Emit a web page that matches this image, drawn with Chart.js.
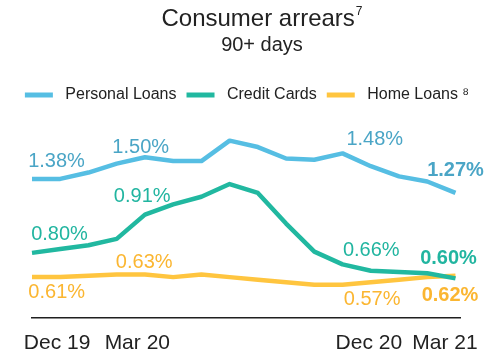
<!DOCTYPE html>
<html>
<head>
<meta charset="utf-8">
<script src="https://cdn.jsdelivr.net/npm/chart.js@4/dist/chart.umd.min.js"></script>
<style>
  html, body { margin: 0; padding: 0; background: #ffffff; }
  #wrap { position: relative; width: 494px; height: 361px; }
  #c { position: absolute; left: 0; top: 0; }
  .ttl { position: absolute; left: 0; width: 494px; text-align: center; color: #222222;
         font-family: 'Liberation Sans', Arial, Helvetica, sans-serif; white-space: nowrap;
         transform: translateX(15px); }
  #title { top: 4px; font-size: 24px; line-height: 28px; }
  #title sup { font-size: 12px; vertical-align: 0; position: relative; top: -11px; margin-left: 1px; }
  #subtitle { top: 32px; font-size: 20px; line-height: 24px; }
</style>
</head>
<body>
<div id="wrap">
  <canvas id="c" width="494" height="361"></canvas>
  <div class="ttl" id="title">Consumer arrears<sup>7</sup></div>
  <div class="ttl" id="subtitle">90+ days</div>
</div>
<script>
// ---- data ----
const months = ['Dec 19','Jan 20','Feb 20','Mar 20','Apr 20','May 20','Jun 20','Jul 20',
                'Aug 20','Sep 20','Oct 20','Nov 20','Dec 20','Jan 21','Feb 21','Mar 21'];
const personalLoans = [1.38,1.38,1.43,1.50,1.55,1.52,1.52,1.68,1.63,1.54,1.53,1.58,1.48,1.40,1.36,1.27];
const creditCards   = [0.80,0.83,0.86,0.91,1.10,1.18,1.24,1.34,1.27,1.03,0.81,0.71,0.66,0.65,0.64,0.60];
const homeLoans     = [0.61,0.61,0.62,0.63,0.63,0.61,0.63,0.61,0.59,0.57,0.55,0.55,0.57,0.59,0.61,0.62];
const seriesNames = ['Personal Loans','Credit Cards','Home Loans \u2078'];
const tickLabels = ['Dec 19','Mar 20','Dec 20','Mar 21'];
const labelledMonths = ['Dec 19','Mar 20','Dec 20','Mar 21'];

// ---- styling ----
const FONT = "'Liberation Sans', Arial, Helvetica, sans-serif";
const lineColors  = ['#56BEE3','#21B8A0','#FFC53F'];
const labelColors = ['#4AA5C6','#21B5A0','#FBB631'];
const tickNudge = [0.89, 0.73, -0.07, -0.37];
// per series, per labelled month: [dx, dy(baseline), bold]
const labelOffsets = [
  [[24.5,-12,false],[24,-11,false],[4,-21,false],[0,-17,true]],
  [[27.5,-12.7,false],[25.5,-37,false],[0.5,-15,false],[-7,-14.6,true]],
  [[24.7,20.7,false],[27.5,-6.7,false],[1.3,22.7,false],[-5.5,25,true]]
];

const allSeries = [personalLoans, creditCards, homeLoans];

const dataLabelPlugin = {
  id: 'valueLabels',
  afterDatasetsDraw(chart) {
    const ctx = chart.ctx;
    ctx.save();
    ctx.textAlign = 'center';
    ctx.textBaseline = 'alphabetic';
    allSeries.forEach((vals, s) => {
      const meta = chart.getDatasetMeta(s);
      labelledMonths.forEach((m, k) => {
        const i = months.indexOf(m);
        const pt = meta.data[i];
        const [dx, dy, bold] = labelOffsets[s][k];
        ctx.font = (bold ? 'bold ' : '') + '20px ' + FONT;
        ctx.fillStyle = labelColors[s];
        ctx.fillText(vals[i].toFixed(2) + '%', pt.x + dx, pt.y + dy);
      });
    });
    ctx.restore();
  }
};

const datasets = allSeries.map((vals, s) => ({
  label: seriesNames[s],
  data: vals.map((v, i) => ({ x: i, y: v })),
  borderColor: lineColors[s],
  backgroundColor: lineColors[s],
  borderWidth: 4.5,
  pointRadius: 0,
  pointHoverRadius: 0,
  tension: 0,
  borderJoinStyle: 'round',
  borderCapStyle: 'butt',
  yAxisID: 'y',
  clip: false
}));

new Chart(document.getElementById('c'), {
  type: 'line',
  data: { datasets },
  plugins: [dataLabelPlugin],
  options: {
    responsive: false,
    animation: false,
    devicePixelRatio: 1,
    layout: { padding: { left: 0, right: 0, top: 77, bottom: -8 } },
    plugins: {
      title: { display: false },
      subtitle: { display: false },
      legend: {
        display: true,
        position: 'top',
        labels: {
          color: '#222222',
          font: { family: FONT, size: 16 },
          boxWidth: 28,
          boxHeight: 5,
          padding: 10,
          generateLabels: (chart) => chart.data.datasets.map((d, i) => ({
            text: ' ' + d.label,
            fillStyle: lineColors[i],
            strokeStyle: lineColors[i],
            lineWidth: 0,
            hidden: false,
            datasetIndex: i,
            fontColor: '#222222'
          }))
        }
      },
      tooltip: { enabled: false }
    },
    scales: {
      x: {
        type: 'linear',
        min: 0,
        max: 15.16,
        grid: { display: false, drawTicks: false },
        border: { display: true, color: '#1f1f1f', width: 1.5 },
        afterBuildTicks: (scale) => {
          scale.ticks = tickLabels.map((l, k) => ({ value: months.indexOf(l) + tickNudge[k] }));
        },
        ticks: {
          color: '#222222',
          font: { family: FONT, size: 21, lineHeight: 1.2 },
          padding: 13,
          maxRotation: 0,
          autoSkip: false,
          callback: (v, idx) => tickLabels[idx]
        }
      },
      y: {
        type: 'linear',
        position: 'left',
        display: true,
        min: 0.291,
        max: 1.897,
        grid: { display: false, drawTicks: false },
        border: { display: false },
        ticks: { display: false },
        afterFit: (scale) => { scale.width = 32; }
      },
      yRight: {
        type: 'linear',
        position: 'right',
        display: true,
        min: 0.291,
        max: 1.897,
        grid: { display: false, drawTicks: false },
        border: { display: false },
        ticks: { display: false },
        afterFit: (scale) => { scale.width = 34; }
      }
    }
  }
});
</script>
</body>
</html>
